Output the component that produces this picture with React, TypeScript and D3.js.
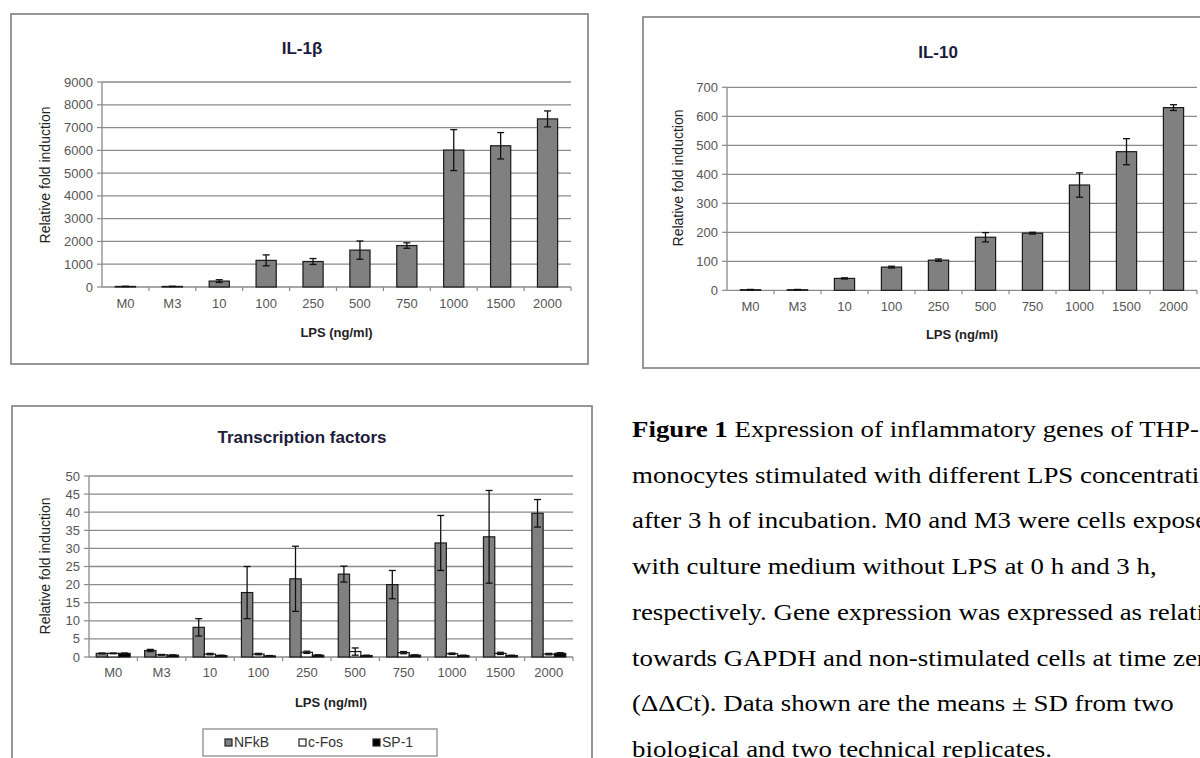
import React from "react";
import * as d3 from "d3";

// LPS concentrations along the x axis
const categories = ["M0", "M3", "10", "100", "250", "500", "750", "1000", "1500", "2000"];

// IL-1β relative fold induction (mean, SD)
const il1bMean = [25, 25, 260, 1170, 1120, 1620, 1820, 6010, 6200, 7380];
const il1bSD = [5, 5, 60, 240, 130, 400, 120, 900, 580, 350];
const il1bTicks = [0, 1000, 2000, 3000, 4000, 5000, 6000, 7000, 8000, 9000];

// IL-10 relative fold induction (mean, SD)
const il10Mean = [2, 2, 41, 80, 104, 183, 197, 363, 478, 630];
const il10SD = [1, 1, 2, 3, 4, 16, 3, 42, 45, 10];
const il10Ticks = [0, 100, 200, 300, 400, 500, 600, 700];

// Transcription factors (mean, SD)
const tfSeries = ["NFkB", "c-Fos", "SP-1"];
const nfkbMean = [1.0, 1.8, 8.2, 17.8, 21.6, 22.9, 20.0, 31.5, 33.2, 39.7];
const nfkbSD = [0.1, 0.3, 2.4, 7.2, 9.0, 2.2, 3.9, 7.6, 12.8, 3.8];
const cfosMean = [1.0, 0.6, 0.8, 0.8, 1.3, 1.5, 1.2, 0.9, 1.0, 0.8];
const cfosSD = [0.1, 0.1, 0.2, 0.2, 0.3, 1.0, 0.3, 0.2, 0.3, 0.2];
const sp1Mean = [1.0, 0.5, 0.4, 0.3, 0.5, 0.4, 0.5, 0.4, 0.4, 1.0];
const sp1SD = [0.1, 0.1, 0.1, 0.1, 0.1, 0.1, 0.1, 0.1, 0.1, 0.2];
const tfTicks = [0, 5, 10, 15, 20, 25, 30, 35, 40, 45, 50];

// Figure caption, one entry per printed line
const captionLines = [
  "Expression of inflammatory genes of THP-1",
  "monocytes stimulated with different LPS concentrations",
  "after 3 h of incubation. M0 and M3 were cells exposed",
  "with culture medium without LPS at 0 h and 3 h,",
  "respectively. Gene expression was expressed as relative",
  "towards GAPDH and non-stimulated cells at time zero",
  "(ΔΔCt). Data shown are the means ± SD from two",
  "biological and two technical replicates.",
];

const SANS = "'Liberation Sans', Arial, sans-serif";
const SERIF = "'Liberation Serif', 'Times New Roman', serif";
const GRID = "#8a8a8a";
const TICK_TEXT = "#555";
const TITLE_COLOR = "#1c1c3c";

type Series = { name: string; mean: number[]; sd: number[]; fill: string };

type PanelProps = {
  frame: { x: number; y: number; w: number; h: number };
  plot: { left: number; right: number; top: number; bottom: number };
  title: string;
  titleX: number;
  titleY: number;
  ticks: number[];
  series: Series[];
  groupPad: number;
  yLabelX: number;
  yLabelY: number;
  xLabelY: number;
  xTitleY: number;
};

function BarPanel(p: PanelProps) {
  const { plot } = p;
  const x = d3
    .scaleBand<string>()
    .domain(categories)
    .range([plot.left, plot.right])
    .paddingInner(p.groupPad)
    .paddingOuter(p.groupPad / 2);
  const inner = d3
    .scaleBand<string>()
    .domain(p.series.map((s) => s.name))
    .range([0, x.bandwidth()]);
  const y = d3
    .scaleLinear()
    .domain([0, p.ticks[p.ticks.length - 1]])
    .range([plot.bottom, plot.top]);
  const step = x.step();
  const capW = 3.5;
  return (
    <g>
      <rect
        x={p.frame.x}
        y={p.frame.y}
        width={p.frame.w}
        height={p.frame.h}
        fill="#fff"
        stroke="#8c8c8c"
        strokeWidth={1.8}
      />
      <text
        x={p.titleX}
        y={p.titleY}
        textAnchor="middle"
        fontFamily={SANS}
        fontWeight="bold"
        fontSize={17}
        fill={TITLE_COLOR}
      >
        {p.title}
      </text>
      {/* gridlines and y ticks */}
      {p.ticks.map((t) => (
        <g key={t}>
          {t > 0 && (
            <line x1={plot.left} x2={plot.right} y1={y(t)} y2={y(t)} stroke={GRID} strokeWidth={1.3} />
          )}
          <line x1={plot.left - 5} x2={plot.left} y1={y(t)} y2={y(t)} stroke={GRID} strokeWidth={1.2} />
          <text
            x={plot.left - 9}
            y={y(t) + 4.5}
            textAnchor="end"
            fontFamily={SANS}
            fontSize={13}
            fill={TICK_TEXT}
          >
            {t}
          </text>
        </g>
      ))}
      {/* axes */}
      <line x1={plot.left} x2={plot.left} y1={plot.top} y2={plot.bottom} stroke={GRID} strokeWidth={1.3} />
      <line x1={plot.left} x2={plot.right} y1={plot.bottom} y2={plot.bottom} stroke={GRID} strokeWidth={1.3} />
      {categories.map((c, i) => (
        <line
          key={"xt" + c}
          x1={plot.left + step * (i + 1)}
          x2={plot.left + step * (i + 1)}
          y1={plot.bottom}
          y2={plot.bottom + 4}
          stroke={GRID}
          strokeWidth={1.2}
        />
      ))}
      {/* bars */}
      {p.series.map((s) =>
        categories.map((c, i) => {
          const bx = (x(c) ?? 0) + (inner(s.name) ?? 0);
          const bw = inner.bandwidth();
          const top = y(s.mean[i]);
          return (
            <rect
              key={s.name + c}
              x={bx}
              y={top}
              width={bw}
              height={plot.bottom - top}
              fill={s.fill}
              stroke="#1a1a1a"
              strokeWidth={1.2}
            />
          );
        })
      )}
      {/* error bars */}
      {p.series.map((s) =>
        categories.map((c, i) => {
          const cx = (x(c) ?? 0) + (inner(s.name) ?? 0) + inner.bandwidth() / 2;
          const hi = y(s.mean[i] + s.sd[i]);
          const lo = y(Math.max(0, s.mean[i] - s.sd[i]));
          return (
            <g key={"e" + s.name + c} stroke="#111" strokeWidth={1.3}>
              <line x1={cx} x2={cx} y1={hi} y2={lo} />
              <line x1={cx - capW} x2={cx + capW} y1={hi} y2={hi} />
              <line x1={cx - capW} x2={cx + capW} y1={lo} y2={lo} />
            </g>
          );
        })
      )}
      {/* category labels */}
      {categories.map((c) => (
        <text
          key={"xl" + c}
          x={(x(c) ?? 0) + x.bandwidth() / 2}
          y={p.xLabelY}
          textAnchor="middle"
          fontFamily={SANS}
          fontSize={13}
          fill={TICK_TEXT}
        >
          {c}
        </text>
      ))}
      <text
        x={(plot.left + plot.right) / 2}
        y={p.xTitleY}
        textAnchor="middle"
        fontFamily={SANS}
        fontWeight="bold"
        fontSize={13}
        fill="#222"
      >
        LPS (ng/ml)
      </text>
      <text
        transform={`translate(${p.yLabelX},${p.yLabelY}) rotate(-90)`}
        textAnchor="middle"
        dominantBaseline="central"
        fontFamily={SANS}
        fontSize={14}
        fill="#222"
      >
        Relative fold induction
      </text>
    </g>
  );
}

export default function App() {
  const il1b: Series[] = [{ name: "IL-1β", mean: il1bMean, sd: il1bSD, fill: "#808080" }];
  const il10: Series[] = [{ name: "IL-10", mean: il10Mean, sd: il10SD, fill: "#808080" }];
  const tfFills = ["#808080", "#ffffff", "#000000"];
  const tf: Series[] = [
    { name: tfSeries[0], mean: nfkbMean, sd: nfkbSD, fill: tfFills[0] },
    { name: tfSeries[1], mean: cfosMean, sd: cfosSD, fill: tfFills[1] },
    { name: tfSeries[2], mean: sp1Mean, sd: sp1SD, fill: tfFills[2] },
  ];
  const legendX = [225, 299, 373];
  return (
    <svg
      width={1200}
      height={758}
      style={{ position: "absolute", left: 0, top: 0, background: "#fff" }}
    >
      <rect width={1200} height={758} fill="#fff" />
      <BarPanel
        frame={{ x: 11, y: 14, w: 577, h: 350 }}
        plot={{ left: 102, right: 571, top: 82, bottom: 287 }}
        title="IL-1β"
        titleX={302}
        titleY={54}
        ticks={il1bTicks}
        series={il1b}
        groupPad={0.57}
        yLabelX={45}
        yLabelY={175}
        xLabelY={308}
        xTitleY={337}
      />
      <BarPanel
        frame={{ x: 643, y: 17, w: 590, h: 351 }}
        plot={{ left: 727, right: 1197, top: 87.3, bottom: 290.3 }}
        title="IL-10"
        titleX={938}
        titleY={58}
        ticks={il10Ticks}
        series={il10}
        groupPad={0.57}
        yLabelX={678}
        yLabelY={178}
        xLabelY={311}
        xTitleY={339}
      />
      <BarPanel
        frame={{ x: 12, y: 406, w: 580, h: 400 }}
        plot={{ left: 89, right: 573, top: 476, bottom: 657 }}
        title="Transcription factors"
        titleX={302}
        titleY={443}
        ticks={tfTicks}
        series={tf}
        groupPad={0.3}
        yLabelX={45}
        yLabelY={566}
        xLabelY={677}
        xTitleY={707}
      />
      {/* legend */}
      <rect x={203} y={729} width={234} height={27} fill="#fff" stroke="#8c8c8c" strokeWidth={1.3} />
      {tfSeries.map((name, i) => (
        <g key={name}>
          <rect x={legendX[i]} y={739} width={7} height={7} fill={tfFills[i]} stroke="#222" strokeWidth={1.2} />
          <text x={legendX[i] + 9} y={747} fontFamily={SANS} fontSize={14} fill="#333">
            {name}
          </text>
        </g>
      ))}
      {/* caption: slightly widened serif text */}
      <g fontFamily={SERIF} fontSize={24} fill="#000">
        {captionLines.map((line, i) => (
          <text key={i} x={0} y={0} transform={`translate(632,${437 + i * 45.7}) scale(1.12,1)`}>
            {i === 0 && <tspan fontWeight="bold">Figure 1 </tspan>}
            {line}
          </text>
        ))}
      </g>
    </svg>
  );
}
